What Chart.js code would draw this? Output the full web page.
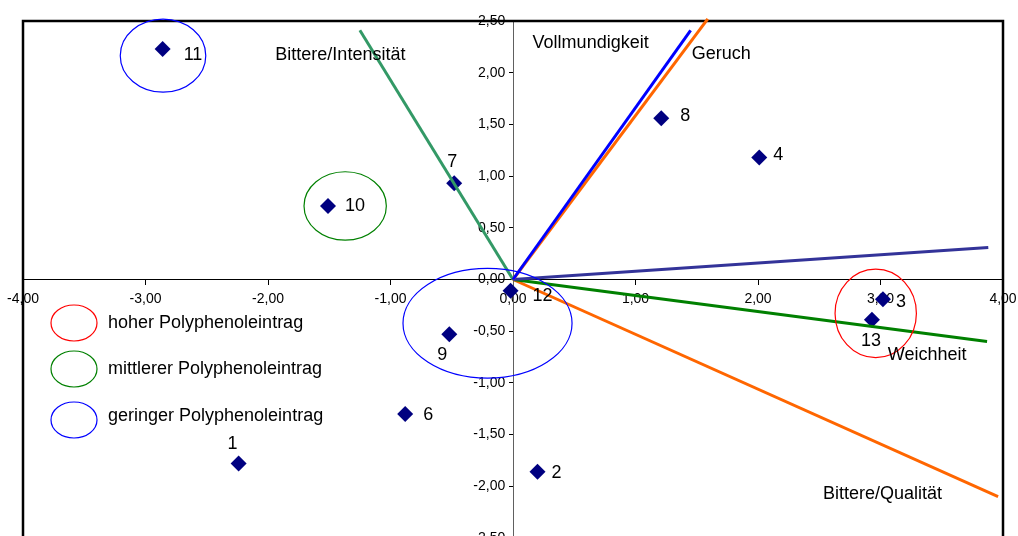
<!DOCTYPE html>
<html lang="de">
<head>
<meta charset="utf-8">
<title>Biplot Polyphenoleintrag</title>
<script src="https://cdn.jsdelivr.net/npm/chart.js@4.4.1/dist/chart.umd.min.js"></script>
<style>
  html, body { margin: 0; padding: 0; background: #fff; overflow: hidden; }
  #wrap { width: 1018px; height: 560px; }
</style>
</head>
<body>
<div id="wrap"><canvas id="biplot" width="1018" height="560"></canvas></div>
<script>
// Sample scores (Proben)
const sampleIds = ['1', '2', '3', '4', '6', '7', '8', '9', '10', '11', '12', '13'];
const sampleX   = [-2.24, 0.20, 3.02, 2.01, -0.88, -0.48, 1.21, -0.52, -1.51, -2.86, -0.02, 2.93];
const sampleY   = [-1.78, -1.86, -0.19, 1.18, -1.30, 0.93, 1.56, -0.53, 0.71, 2.23, -0.11, -0.39];

// Attribute loadings (sensory vectors from the origin)
const attrNames = ['Vollmundigkeit', 'Geruch', 'Bittere/Intensität', 'Geschmack', 'Weichheit', 'Bittere/Qualität'];
const attrX     = [1.45, 1.59, -1.25, 3.88, 3.87, 3.96];
const attrY     = [2.41, 2.52, 2.41, 0.31, -0.60, -2.10];

// Polyphenol groups
const groupNames = ['hoher Polyphenoleintrag', 'mittlerer Polyphenoleintrag', 'geringer Polyphenoleintrag'];

// Axis ticks
const xTicks = [-4, -3, -2, -1, 0, 1, 2, 3, 4];
const yTicks = [-2.5, -2, -1.5, -1, -0.5, 0, 0.5, 1, 1.5, 2, 2.5];

// ---- styling ----
const FONT = "'Liberation Sans', Arial, Helvetica, sans-serif";
const attrColors  = ['#0000ff', '#ff6600', '#339966', '#333399', '#008000', '#ff6600'];
const groupColors = ['#ff0000', '#008000', '#0000ff'];
const pointColor  = '#000080';

// label offsets in px relative to each sample point: [dx, dy, align]
const sampleLabelOffsets = [
  [-6, -20, 'center'], [14, 1, 'left'], [13, 3, 'left'], [14, -2, 'left'],
  [18, 1, 'left'], [-2, -21, 'center'], [19, -2, 'left'], [-7, 21, 'center'],
  [17, 0, 'left'], [21, 6, 'left'], [22, 5, 'left'], [-1, 21, 'center']
];
// attribute label anchors (left edge, middle) in axis units
const attrLabelAnchors = [
  [0.16, 2.29], [1.46, 2.18], [-1.94, 2.17], [4.545, 0.535], [3.06, -0.73], [2.53, -2.07]
];
// rings around grouped samples, in axis units: group index, centre, radii
const groupRings = [
  { g: 2, cx: -2.857, cy: 2.165, rx: 0.349, ry: 0.353 },
  { g: 1, cx: -1.370, cy: 0.711, rx: 0.336, ry: 0.331 },
  { g: 2, cx: -0.208, cy: -0.423, rx: 0.690, ry: 0.530 },
  { g: 0, cx: 2.961, cy: -0.328, rx: 0.332, ry: 0.428 }
];
// legend block (px)
const legendBox = { cx: 74, rx: 23, ry: 18, textX: 108, rows: [[323, 323], [369, 369], [420, 416]] };

const fmt = v => v.toFixed(2).replace('.', ',');
// y labels sit right-aligned on the axis line; trailing gap leaves room for the tick marks
const fmtY = v => fmt(v) + '  ';
// keep edge labels from shrinking the plot area
const noEdgePadding = s => { s.paddingLeft = 0; s.paddingRight = 0; s.paddingTop = 0; s.paddingBottom = 0; };

const datasets = attrNames.map((name, i) => ({
  label: name,
  data: [{ x: 0, y: 0 }, { x: attrX[i], y: attrY[i] }],
  showLine: true,
  borderColor: attrColors[i],
  backgroundColor: attrColors[i],
  borderWidth: 3,
  pointRadius: 0,
  clip: false
}));
datasets.push({
  label: 'Proben',
  data: sampleX.map((x, i) => ({ x, y: sampleY[i] })),
  pointStyle: 'rectRot',
  pointRadius: 8,
  backgroundColor: pointColor,
  borderColor: pointColor,
  borderWidth: 0
});

const decorations = {
  id: 'decorations',
  beforeDatasetsDraw(chart) {
    const { ctx, chartArea: a } = chart;
    ctx.save();
    ctx.strokeStyle = '#000';
    ctx.lineWidth = 2.5;
    ctx.strokeRect(a.left, a.top, a.right - a.left, a.bottom - a.top);
    ctx.restore();
  },
  afterDatasetsDraw(chart) {
    const { ctx } = chart;
    const xs = chart.scales.x, ys = chart.scales.y;
    ctx.save();
    // rings
    ctx.lineWidth = 1.2;
    groupRings.forEach(r => {
      const cx = xs.getPixelForValue(r.cx), cy = ys.getPixelForValue(r.cy);
      const rx = Math.abs(xs.getPixelForValue(r.cx + r.rx) - cx);
      const ry = Math.abs(ys.getPixelForValue(r.cy + r.ry) - cy);
      ctx.strokeStyle = groupColors[r.g];
      ctx.beginPath();
      ctx.ellipse(cx, cy, rx, ry, 0, 0, Math.PI * 2);
      ctx.stroke();
    });
    // sample labels
    ctx.fillStyle = '#000';
    ctx.font = '18px ' + FONT;
    ctx.textBaseline = 'middle';
    sampleIds.forEach((id, i) => {
      const [dx, dy, al] = sampleLabelOffsets[i];
      ctx.textAlign = al;
      ctx.fillText(id, xs.getPixelForValue(sampleX[i]) + dx, ys.getPixelForValue(sampleY[i]) + dy);
    });
    // attribute labels
    ctx.textAlign = 'left';
    attrNames.forEach((n, i) => {
      const [lx, ly] = attrLabelAnchors[i];
      ctx.fillText(n, xs.getPixelForValue(lx), ys.getPixelForValue(ly));
    });
    // legend
    groupNames.forEach((n, i) => {
      const [ey, ty] = legendBox.rows[i];
      ctx.strokeStyle = groupColors[i];
      ctx.beginPath();
      ctx.ellipse(legendBox.cx, ey, legendBox.rx, legendBox.ry, 0, 0, Math.PI * 2);
      ctx.stroke();
      ctx.fillText(n, legendBox.textX, ty);
    });
    ctx.restore();
  }
};

new Chart(document.getElementById('biplot'), {
  type: 'scatter',
  data: { datasets },
  options: {
    responsive: false,
    animation: false,
    devicePixelRatio: 1,
    events: [],
    layout: { padding: { left: 23, top: 21, right: 15, bottom: 22 } },
    plugins: { legend: { display: false }, tooltip: { enabled: false } },
    scales: {
      x: {
        type: 'linear', min: -4, max: 4, position: { y: 0 },
        afterBuildTicks: s => { s.ticks = xTicks.map(v => ({ value: v })); },
        afterFit: noEdgePadding,
        ticks: { callback: fmt, font: { family: FONT, size: 14 }, color: '#000', padding: 6, maxRotation: 0, autoSkip: false },
        grid: { drawOnChartArea: false, drawTicks: true, tickLength: 5, tickColor: '#000' },
        border: { color: '#000', width: 1 }
      },
      y: {
        type: 'linear', min: -2.5, max: 2.5, position: { x: 0 },
        afterBuildTicks: s => { s.ticks = yTicks.map(v => ({ value: v })); },
        afterFit: noEdgePadding,
        ticks: { callback: fmtY, font: { family: FONT, size: 14 }, color: '#000', padding: 3, autoSkip: false },
        grid: { drawOnChartArea: false, drawTicks: true, tickLength: 4, tickColor: '#000' },
        border: { color: '#606060', width: 1 }
      }
    }
  },
  plugins: [decorations]
});
</script>
</body>
</html>
